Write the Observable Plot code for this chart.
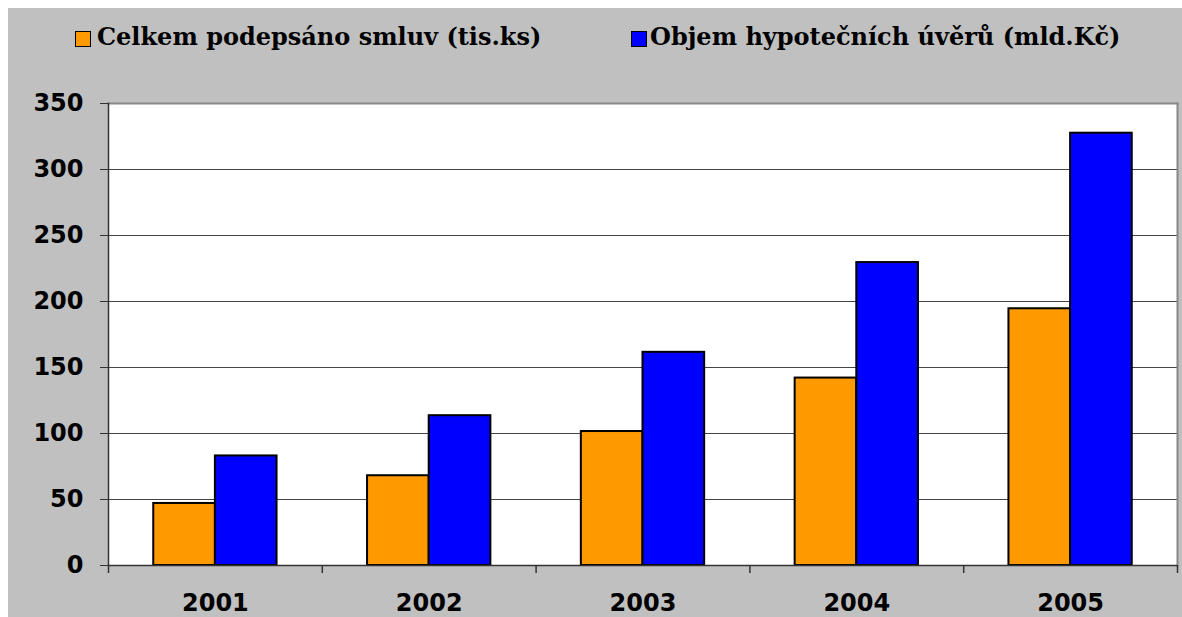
<!DOCTYPE html>
<html><head><meta charset="utf-8">
<script src="https://cdn.jsdelivr.net/npm/d3@7"></script>
<script src="https://cdn.jsdelivr.net/npm/@observablehq/plot@0.6"></script>
<style>
html,body{margin:0;padding:0;background:#fff;}
#wrap{position:absolute;left:8px;top:8px;width:1174px;height:609px;background:#c0c0c0;overflow:hidden;}
.sw{position:absolute;top:23px;width:16px;height:16px;box-sizing:border-box;border:1.5px solid #000;}
.lt{position:absolute;top:16.7px;line-height:1;font-family:"DejaVu Serif",serif;font-weight:bold;font-size:24px;color:#000;white-space:nowrap;}
#chart{position:absolute;left:0;top:80px;}
</style></head>
<body>
<div id="wrap">
  <div class="sw" id="sw0" style="left:67px"></div>
  <div class="lt" id="lt0" style="left:89px"></div>
  <div class="sw" id="sw1" style="left:623px"></div>
  <div class="lt" id="lt1" style="left:642px"></div>
  <div id="chart"></div>
</div>
<script>
const years = ["2001", "2002", "2003", "2004", "2005"];
const contracts = [47, 68, 101.5, 142, 194.5];
const volume = [83, 113.5, 161.5, 229.5, 327.5];
const yTicks = [0, 50, 100, 150, 200, 250, 300, 350];
const seriesNames = ["Celkem podepsáno smluv (tis.ks)", "Objem hypotečních úvěrů (mld.Kč)"];
const seriesColors = ["#ff9900", "#0000ff"];

seriesNames.forEach((n, i) => {
  document.getElementById("lt" + i).textContent = n;
  document.getElementById("sw" + i).style.background = seriesColors[i];
});

const W = 1174, H = 529, mL = 100, mR = 5, mT = 15, mB = 52;
const step = (W - mL - mR) / years.length;
const padIn = 0.4233;
const bw = step * (1 - padIn);

const rowsA = years.map((y, i) => ({year: y, value: contracts[i]}));
const rowsB = years.map((y, i) => ({year: y, value: volume[i]}));

const chart = Plot.plot({
  width: W, height: H,
  marginLeft: mL, marginRight: mR, marginTop: mT, marginBottom: mB,
  style: {background: "transparent", fontFamily: "DejaVu Sans, sans-serif", fontWeight: "bold", fontSize: "24px", color: "#000"},
  x: {domain: years, paddingInner: padIn, paddingOuter: padIn / 2, round: false},
  y: {domain: [0, 350]},
  marks: [
    Plot.frame({fill: "#fff", stroke: null}),
    Plot.gridY(yTicks.slice(1, -1), {stroke: "#444", strokeOpacity: 1, strokeWidth: 1}),
    Plot.frame({anchor: "top", stroke: "#888", strokeWidth: 2}),
    Plot.frame({anchor: "right", stroke: "#888", strokeWidth: 2}),
    Plot.barY(rowsA, {x: "year", y: "value", fill: seriesColors[0], stroke: "#000", strokeWidth: 2, insetRight: bw / 2}),
    Plot.barY(rowsB, {x: "year", y: "value", fill: seriesColors[1], stroke: "#000", strokeWidth: 2, insetLeft: bw / 2}),
    Plot.frame({anchor: "left", stroke: "#333", strokeWidth: 1.5}),
    Plot.ruleY([0], {stroke: "#333", strokeWidth: 1.5}),
    Plot.ruleX(years, {x: d => d, y1: 0, y2: 0, insetBottom: -8, dx: -step / 2, stroke: "#333", strokeWidth: 1.5}),
    Plot.ruleX(years.slice(-1), {x: d => d, y1: 0, y2: 0, insetBottom: -8, dx: step / 2, stroke: "#333", strokeWidth: 1.5}),
    Plot.axisY({ticks: yTicks, tickSize: 8, tickPadding: 17, label: null, fontSize: 24, fontWeight: "bold", stroke: "#333"}),
    Plot.axisX({tickSize: 0, tickPadding: 28, label: null, fontSize: 24, fontWeight: "bold"})
  ]
});
document.getElementById("chart").appendChild(chart);
</script>
</body></html>
